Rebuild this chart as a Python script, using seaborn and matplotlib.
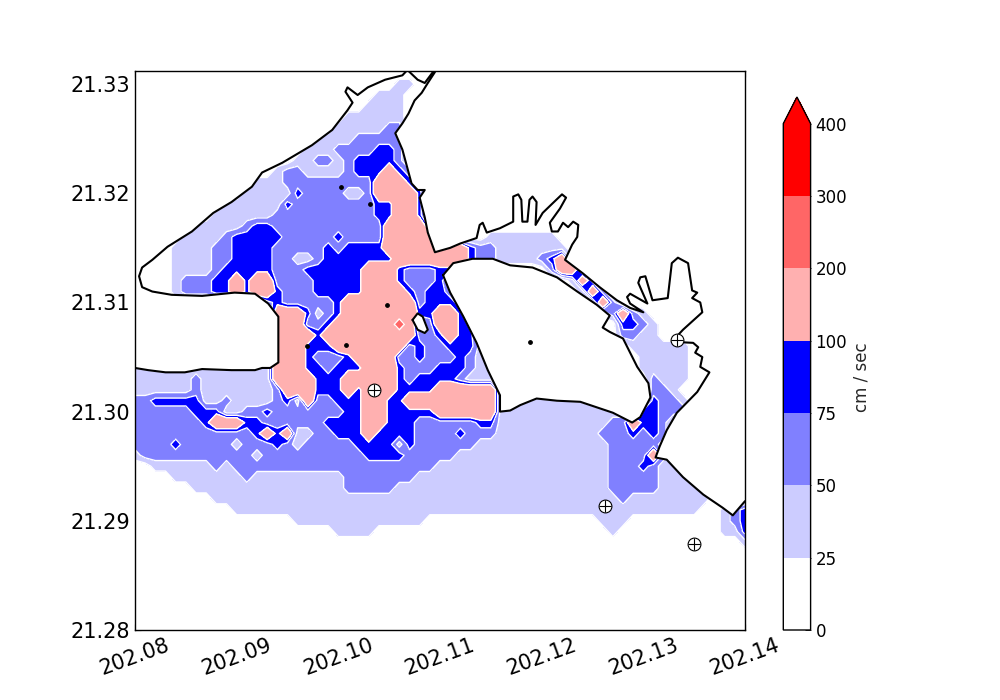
import numpy as np
import seaborn as sns
import matplotlib.pyplot as plt
from matplotlib.colors import ListedColormap, BoundaryNorm

# speed classes, one row per 0.001 deg of latitude, north to south
# 0 <25, 1 25-50, 2 50-75, 3 75-100, 4 100-200, 5 200-300
speed_rows = [
    "0000000000 0000000000 0000000000 0000000000 0000000000 00000000000",
    "0000000000 0000000000 0000001100 0000000000 0000000000 00000000000",
    "0000000000 0000000000 0000111000 0000000000 0000000000 00000000000",
    "0000000000 0000000000 0001111000 0000000000 0000000000 00000000000",
    "0000000000 0000000000 0111111000 0000000000 0000000000 00000000000",
    "0000000000 0000000000 1111122000 0000000000 0000000000 00000000000",
    "0000000000 0000000011 1122222000 0000000000 0000000000 00000000000",
    "0000000000 0000000111 2222332000 0000000000 0000000000 00000000000",
    "0000000000 0000001122 1233332000 0000000000 0000000000 00000000000",
    "0000000000 0000122111 1233343200 0000000000 0000000000 00000000000",
    "0000000000 0011122222 2222444320 0000000000 0000000000 00000000000",
    "0000000000 0111113222 2112444430 0000000000 0000000000 00000000000",
    "0000000001 1111132222 2222334430 0000000000 0000000000 00000000000",
    "0000000011 1111222222 2222334430 0000000000 0000000000 00000000000",
    "0000001111 1233222222 2222244442 0000000000 0000000000 00000000000",
    "0000011112 3333322222 3222244444 0000011111 1100000000 00000000000",
    "0000111122 3333222223 2333344444 4443221111 1110000000 00000000000",
    "0000111122 3333221123 3333334444 4443221111 2341000000 00000000000",
    "0000111123 3333222333 3334443222 3300000000 0244100000 00000000000",
    "0000122233 4344222233 3334443222 3100000000 0001420000 00000000000",
    "0000122233 4344322233 3334444323 3200000000 0000142000 00000000000",
    "0000000000 0002322222 3444444423 3320000000 0000014200 00000000000",
    "0000000000 0000444312 3444444433 4430000000 0000001242 10000000000",
    "0000000000 0000444223 4444445412 4433000000 0000000033 21000000000",
    "0000000000 0000444434 4444444422 3433000000 0000000022 11000000000",
    "0000000000 0000444333 4444444232 2333100000 0000000001 11111000000",
    "0000000000 0000444322 2344442232 2232110000 0000000000 11111000000",
    "1111111111 1111444332 3334443222 3332110000 0000000000 11111000000",
    "1111112111 1111444433 3444443233 3321110000 0000000000 02111000000",
    "1111112111 1111244433 3434443333 4444441000 0000000000 02210000000",
    "2233333112 1111231422 3334433444 4444441111 1111111111 03221000000",
    "2222223331 1223222222 2334433333 4444441111 1111111111 33222000000",
    "2222222344 4332222223 3334433322 2222331111 1111111224 33200000000",
    "2222222222 2234341122 3334333322 2232221111 1111112223 23200000000",
    "2222322222 1222321222 2233331322 2222111111 1111111222 22100000000",
    "1222222222 2212222222 2223333222 2211111111 1111111222 24200000000",
    "0011111121 2222222222 2222222222 1111111111 1111111222 32110000000",
    "0000111111 1211111111 1222222211 1111111111 1111111222 22111000000",
    "0000001111 1111111111 1222221111 1111111111 1111111222 22111100000",
    "0000000011 1111111111 1111111111 1111111111 1111111121 11111110000",
    "0000000000 1111111111 1111111111 1111111111 1111111111 11111100123",
    "0000000000 0000001111 1111111110 0000000000 0000001110 00000000123",
    "0000000000 0000000000 1111000000 0000000000 0000000100 00000000113",
    "0000000000 0000000000 0000000000 0000000000 0000000000 00000000001",
    "0000000000 0000000000 0000000000 0000000000 0000000000 00000000000",
    "0000000000 0000000000 0000000000 0000000000 0000000000 00000000000",
    "0000000000 0000000000 0000000000 0000000000 0000000000 00000000000",
    "0000000000 0000000000 0000000000 0000000000 0000000000 00000000000",
    "0000000000 0000000000 0000000000 0000000000 0000000000 00000000000",
    "0000000000 0000000000 0000000000 0000000000 0000000000 00000000000",
    "0000000000 0000000000 0000000000 0000000000 0000000000 00000000000",
    "0000000000 0000000000 0000000000 0000000000 0000000000 00000000000",
]
class_speed = {'0': 10, '1': 37, '2': 62, '3': 87, '4': 150, '5': 250}

levels = [0, 25, 50, 75, 100, 200, 300, 400]
band_colors = ['#ffffff', '#ccccff', '#8080ff', '#0000ff', '#ffb0b0', '#ff6666', '#ff0000']

# coastlines, lon - 202 and lat - 21
west_lon = [.0800, .0813, .0830, .0849, .0866, .0895, .0918, .0925, .0933, .0941, .0941, .0931, .0918,
            .0898, .0866, .0836, .0817, .0807, .0804, .0807, .0817, .0832, .0856, .0877, .0895, .0915,
            .0925, .0945, .0974, .0994, .1009, .1014, .1007, .1009, .1019, .1029, .1046, .1063, .1067]
west_lat = [.3040, .3038, .3036, .3036, .3039, .3038, .3038, .3040, .3040, .3045, .3087, .3099, .3108,
            .3109, .3106, .3107, .3110, .3114, .3124, .3132, .3139, .3151, .3165, .3182, .3192, .3206,
            .3219, .3228, .3244, .3258, .3276, .3283, .3293, .3297, .3290, .3297, .3304, .3308, .3312]
east_lon = [.1069, .1078, .1085, .1093, .1095, .1088, .1082, .1075, .1069, .1063, .1056, .1063, .1072,
            .1078, .1085, .1080, .1085, .1088, .1095, .1110, .1120, .1136, .1139, .1142, .1146, .1159,
            .1172, .1172, .1177, .1180, .1181, .1186, .1188, .1191, .1195, .1194, .1201, .1211, .1220,
            .1224, .1218, .1208, .1210, .1216, .1221, .1226, .1231, .1236, .1235, .1230, .1223, .1240,
            .1257, .1274, .1287, .1300, .1287, .1284, .1287, .1304, .1295, .1297, .1302, .1309, .1324,
            .1328, .1334, .1344, .1348, .1353, .1348, .1356, .1358, .1339, .1328, .1349, .1354, .1351,
            .1358, .1356, .1365, .1353, .1333, .1323, .1316, .1312, .1323, .1339, .1359, .1378, .1388, .1400]
east_lat = [.3312, .3304, .3301, .3311, .3311, .3301, .3292, .3285, .3273, .3264, .3255, .3240, .3209,
            .3203, .3203, .3196, .3178, .3164, .3146, .3150, .3154, .3159, .3171, .3173, .3164, .3168,
            .3174, .3197, .3199, .3194, .3174, .3174, .3194, .3197, .3192, .3171, .3182, .3191, .3199,
            .3196, .3186, .3173, .3165, .3165, .3173, .3169, .3174, .3171, .3160, .3153, .3139, .3127,
            .3114, .3102, .3095, .3091, .3099, .3105, .3108, .3099, .3118, .3123, .3124, .3102, .3104,
            .3136, .3141, .3136, .3111, .3109, .3104, .3100, .3091, .3075, .3064, .3063, .3059, .3054,
            .3050, .3041, .3036, .3018, .2999, .2983, .2968, .2958, .2956, .2940, .2924, .2912, .2905, .2918]
bay_lon = [.1103, .1113, .1132, .1152, .1169, .1191, .1215, .1235, .1254, .1267, .1260, .1267, .1280, .1294,
           .1305, .1307, .1297, .1289, .1270, .1238, .1215, .1195, .1179, .1169, .1159, .1159, .1147, .1136,
           .1123, .1110, .1103]
bay_lat = [.3125, .3136, .3140, .3140, .3134, .3132, .3123, .3110, .3098, .3088, .3077, .3073, .3067, .3041,
           .3026, .3013, .2995, .2990, .2999, .3009, .3010, .3012, .3006, .3001, .3000, .3015, .3038, .3063,
           .3087, .3109, .3125]
islet_lon = [.1073, .1078, .1083, .1088, .1085, .1078, .1073]
islet_lat = [.3084, .3090, .3087, .3075, .3072, .3075, .3084]

speck_lon = [.0969, .1008, .1048, .1189, .1031, .1003]
speck_lat = [.3060, .3061, .3098, .3064, .3190, .3206]
station_lon = [.1035, .1333, .1262, .1350]
station_lat = [.3020, .3066, .2914, .2879]

sns.set_style('ticks', {'xtick.direction': 'in', 'ytick.direction': 'in', 'axes.edgecolor': 'black',
                        'xtick.color': 'black', 'ytick.color': 'black', 'text.color': 'black'})

fig = plt.figure(figsize=(10, 7), dpi=100)
ax = fig.add_axes([0.135, 0.1, 0.61, 0.7986])
cax = fig.add_axes([0.7833, 0.1, 0.0273, 0.7614])

speed = np.array([[class_speed[c] for c in row.replace(' ', '')] for row in speed_rows], dtype=float)[::-1]
lon = 202.08 + np.arange(speed.shape[1]) * 0.001
lat = 21.28 + np.arange(speed.shape[0]) * 0.001

cmap = ListedColormap(sns.color_palette(band_colors))
cmap.set_over('#ff0000')
norm = BoundaryNorm(levels, cmap.N)

cf = ax.contourf(lon, lat, speed, levels=levels, cmap=cmap, norm=norm, extend='max')
ax.contour(lon, lat, speed, levels=levels[1:6], colors='white', linewidths=1)

# land on top of the water, black only along the real shore
ax.fill(202 + np.r_[west_lon, .08], 21 + np.r_[west_lat, .34], color='white', zorder=3)
ax.fill(202 + np.r_[east_lon, .14], 21 + np.r_[east_lat, .34], color='white', zorder=3)
ax.fill(202 + np.array(bay_lon), 21 + np.array(bay_lat), color='white', zorder=3)
ax.fill(202 + np.array(islet_lon), 21 + np.array(islet_lat), color='white', zorder=3)
for xs, ys in [(west_lon, west_lat), (east_lon, east_lat), (bay_lon, bay_lat), (islet_lon, islet_lat)]:
    ax.plot(202 + np.array(xs), 21 + np.array(ys), color='black', lw=1.5, zorder=4)

ax.scatter(202 + np.array(speck_lon), 21 + np.array(speck_lat), s=6, color='black', zorder=4)
sns.scatterplot(x=202 + np.array(station_lon), y=21 + np.array(station_lat), ax=ax, s=85, color='white',
                edgecolor='black', linewidth=0.8, zorder=5, legend=False)
ax.scatter(202 + np.array(station_lon), 21 + np.array(station_lat), s=85, marker='+', color='black',
           linewidths=0.8, zorder=6)

ax.set_xlim(202.08, 202.14)
ax.set_ylim(21.28, 21.3312)
ax.set_xlabel('')
ax.set_ylabel('')
ax.set_xticks(np.arange(202.08, 202.145, 0.01))
ax.set_xticklabels(['%.2f' % v for v in np.arange(202.08, 202.145, 0.01)], rotation=20, fontsize=15)
ax.set_yticks(np.arange(21.28, 21.335, 0.01))
ax.set_yticklabels(['%.2f' % v for v in np.arange(21.28, 21.335, 0.01)], fontsize=15)
ax.tick_params(top=True, right=True, length=4, width=0.8)
for s in ax.spines.values():
    s.set_visible(True)
    s.set_linewidth(1)
    s.set_zorder(7)

cb = fig.colorbar(cf, cax=cax, spacing='uniform', ticks=levels, extendfrac=0.0525)
cb.ax.tick_params(labelsize=12, length=4, width=0.6, direction='in')
cb.set_label('cm / sec', fontsize=12)
cb.outline.set_linewidth(1)

fig.savefig('out.png', dpi=100)
